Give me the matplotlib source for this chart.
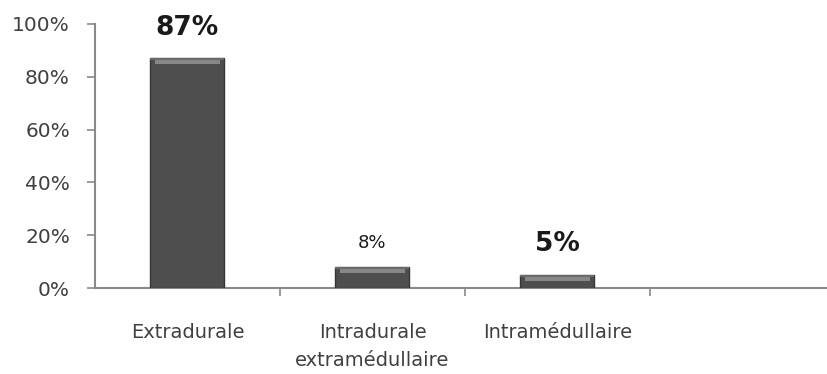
import matplotlib
matplotlib.use("Agg")
import matplotlib.pyplot as plt
import numpy as np

categories = ["Extradurale", "Intradurale\nextramédullaire", "Intramédullaire", ""]
values = [87, 8, 5]
value_labels = ["87%", "8%", "5%"]
label_bold = [True, False, True]
label_sizes = [19, 13, 19]
label_offsets = [22, 17, 22]  # points above bar top
yticks = [0, 20, 40, 60, 80, 100]
ytick_labels = ["0%", "20%", "40%", "60%", "80%", "100%"]

W, H = 828, 374
fig = plt.figure(figsize=(W / 100, H / 100), dpi=100)
ax = fig.add_axes([95 / W, 86 / H, 740 / W, 264 / H])

x = np.arange(len(values))
bw = 0.40
ax.bar(x, values, width=bw, color="#4e4e4e", edgecolor="#363636", linewidth=1.0, zorder=3)
# bevel highlight on top of each bar
cap = np.array([1.5] * len(values))
ax.bar(x, cap, bottom=np.array(values) - cap - 0.7, width=bw * 0.88,
       color="#8e8e8e", linewidth=0, zorder=4, alpha=0.9)
ax.bar(x, np.array([0.7] * len(values)), bottom=np.array(values) - 0.7, width=bw,
       color="#6a6a6a", linewidth=0, zorder=4)

for xi, v, lab, b, s, off in zip(x, values, value_labels, label_bold, label_sizes, label_offsets):
    ax.annotate(lab, (xi, v), xytext=(0, off), textcoords="offset points",
                ha="center", va="center", fontsize=s,
                fontweight="bold" if b else "normal", color="#1a1a1a")

ax.set_xlim(-0.5, 3.5)
ax.set_ylim(0, 100)
ax.set_yticks(yticks)
ax.set_yticklabels(ytick_labels)
ax.set_xticks(np.arange(len(categories)))
ax.set_xticklabels(categories, linespacing=1.65)
ax.set_xticks(np.arange(len(categories)) + 0.5, minor=True)

for sp in ["top", "right"]:
    ax.spines[sp].set_visible(False)
for sp in ["left", "bottom"]:
    ax.spines[sp].set_color("#8a8a8a")
    ax.spines[sp].set_linewidth(1.5)

ax.tick_params(axis="y", direction="out", length=6, width=1.2, color="#8a8a8a",
               labelsize=14.5, labelcolor="#404040", pad=12)
ax.tick_params(axis="x", which="major", length=0, pad=25, labelsize=14, labelcolor="#404040")
ax.tick_params(axis="x", which="minor", direction="out", length=6, width=1.2, color="#8a8a8a")

fig.savefig("out.png", dpi=100)
